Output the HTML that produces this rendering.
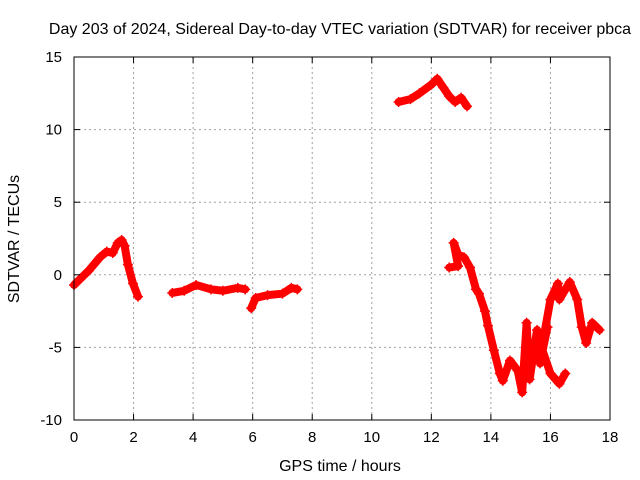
<!DOCTYPE html>
<html><head><meta charset="utf-8"><style>
body{margin:0;background:#fff}
svg{display:block;font-family:"Liberation Sans",sans-serif}
</style></head><body>
<svg id="chart" width="640" height="480"></svg>
<script>
const xTicks=[0,2,4,6,8,10,12,14,16,18];
const yTicks=[-10,-5,0,5,10,15];
const seg1Hours=[0,0.5,0.87,1.1,1.3,1.47,1.6,1.7,1.81,1.98,2.15];
const seg1Values=[-0.7,0.3,1.2,1.6,1.5,2.2,2.4,2.0,0.7,-0.6,-1.5];
const seg2Hours=[3.3,3.7,4.1,4.6,5.0,5.5,5.75];
const seg2Values=[-1.25,-1.1,-0.7,-1.0,-1.1,-0.9,-1.0];
const seg3Hours=[5.95,6.1,6.5,7.0,7.3,7.5];
const seg3Values=[-2.3,-1.6,-1.4,-1.3,-0.9,-1.0];
const seg4Hours=[10.9,11.3,11.6,12.0,12.2,12.4,12.6,12.8,13.0,13.2];
const seg4Values=[11.9,12.1,12.5,13.1,13.5,12.9,12.3,11.9,12.2,11.6];
const seg5Hours=[12.6,12.9,12.75,12.9,13.1,13.3,13.5,13.6,13.8,13.9,14.1,14.3,14.4,14.64,14.9,15.05,15.2,15.3,15.55,15.65,15.9,15.7,16.0,16.3,16.5];
const seg5Values=[0.5,0.6,2.2,1.4,1.2,0.5,-1.0,-1.3,-2.5,-3.5,-5.2,-6.8,-7.3,-5.9,-6.6,-8.1,-3.3,-7.2,-3.8,-6.1,-3.6,-5.0,-6.8,-7.5,-6.8];
const seg6Hours=[15.8,16.0,16.25,16.3,16.65,16.9,17.05,17.2,17.4,17.65];
const seg6Values=[-4.0,-1.7,-0.6,-1.7,-0.5,-1.7,-3.6,-4.7,-3.3,-3.8];

const NS="http://www.w3.org/2000/svg";
const svg=document.getElementById('chart');
const L=74,R=610,T=57,B=420;
const xs=h=>L+(h-0)/18*(R-L);
const ys=v=>B-(v+10)/25*(B-T);
function mk(tag,attrs,parent){const e=document.createElementNS(NS,tag);for(const k in attrs)e.setAttribute(k,attrs[k]);(parent||svg).appendChild(e);return e;}

xTicks.forEach(t=>{if(t>0&&t<18){const g=mk('line',{x1:xs(t),x2:xs(t),y1:T,y2:B,stroke:'#a0a0a0','stroke-dasharray':'2,3'});

}});
yTicks.forEach(t=>{if(t>-10&&t<15){const g=mk('line',{x1:L,x2:R,y1:ys(t),y2:ys(t),stroke:'#a0a0a0','stroke-dasharray':'2,3'});

}});

const segs=[[seg1Hours,seg1Values],[seg2Hours,seg2Values],[seg3Hours,seg3Values],[seg4Hours,seg4Values],[seg5Hours,seg5Values],[seg6Hours,seg6Values]];
segs.forEach((s,i)=>{
  const pts=s[0].map((h,j)=>xs(h)+','+ys(s[1][j])).join(' ');
  const p=mk('polyline',{points:pts,fill:'none',stroke:'#ff0000','stroke-width':8,'stroke-linejoin':'round','stroke-linecap':'round'});
  
  
  s[0].forEach((h,j)=>{const x=xs(h),y=ys(s[1][j]);
    const m=mk('path',{d:`M${x-5},${y}H${x+5}M${x},${y-5}V${y+5}`,stroke:'#ff0000','stroke-width':1.5});
    
    });
});

const f=mk('rect',{x:L,y:T,width:R-L,height:B-T,fill:'none',stroke:'#000','stroke-width':1});



xTicks.forEach(t=>{
  mk('line',{x1:xs(t),x2:xs(t),y1:B,y2:B-6,stroke:'#000'});
  mk('line',{x1:xs(t),x2:xs(t),y1:T,y2:T+6,stroke:'#000'});
  const tx=mk('text',{x:xs(t),y:B+22,'text-anchor':'middle','font-size':15});tx.textContent=t;
  
  
});
yTicks.forEach(t=>{
  mk('line',{x1:L,x2:L+6,y1:ys(t),y2:ys(t),stroke:'#000'});
  mk('line',{x1:R,x2:R-6,y1:ys(t),y2:ys(t),stroke:'#000'});
  const tx=mk('text',{x:L-12,y:ys(t)+5,'text-anchor':'end','font-size':15});tx.textContent=t;
  
  
});
mk('line',{x1:L,x2:L,y1:T,y2:B,stroke:'#000'});

const title=mk('text',{x:340,y:34,'text-anchor':'middle','font-size':16});
title.textContent='Day 203 of 2024, Sidereal Day-to-day VTEC variation (SDTVAR) for receiver pbca';


const xl=mk('text',{x:340,y:471,'text-anchor':'middle','font-size':16});
xl.textContent='GPS time / hours';


const yl=mk('text',{x:0,y:0,'text-anchor':'middle','font-size':16,transform:'translate(19,239) rotate(-90)'});
yl.textContent='SDTVAR / TECUs';


</script>
</body></html>
